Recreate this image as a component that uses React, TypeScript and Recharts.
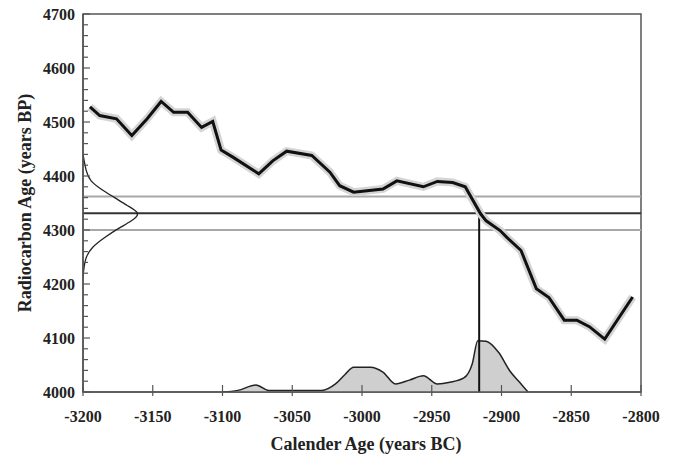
import { ComposedChart, Line, Area, XAxis, YAxis, ReferenceLine, ReferenceArea, Label } from 'recharts';

// calibration curve (calendar year BC, radiocarbon age BP)
const calYears = [-3195, -3188, -3176, -3165, -3154, -3144, -3135, -3125, -3115, -3107, -3101, -3092, -3074, -3064, -3054, -3036, -3023, -3016, -3006, -2985, -2975, -2956, -2946, -2935, -2926, -2915, -2911, -2901, -2896, -2886, -2875, -2866, -2855, -2846, -2837, -2826, -2806];
const calAges = [4528, 4512, 4506, 4475, 4506, 4538, 4518, 4518, 4490, 4501, 4448, 4434, 4404, 4428, 4446, 4438, 4407, 4382, 4370, 4376, 4391, 4380, 4390, 4388, 4380, 4330, 4317, 4299, 4286, 4262, 4191, 4175, 4133, 4133, 4121, 4098, 4176];

// measured radiocarbon date distribution (relative density)
const measAges = [4440, 4410, 4391, 4376, 4360, 4345, 4331, 4317, 4302, 4286, 4268, 4249, 4231, 4215];
const measDensity = [0, 0.06, 0.15, 0.33, 0.58, 0.82, 1, 0.89, 0.64, 0.4, 0.18, 0.06, 0.02, 0];

// calibrated calendar age distribution
const distYears = [-3100, -3089, -3076, -3067, -3029, -3019, -3012, -3006, -2994, -2985, -2976, -2966, -2956, -2946, -2937, -2927, -2921, -2917, -2911, -2902, -2894, -2887, -2881];
const distHeights = [0, 3, 13, 3, 3, 15, 33, 46, 46, 37, 15, 22, 30, 15, 18, 26, 52, 95, 94, 73, 39, 18, 0];

const measMean = 4331;
const measLow = 4300;
const measHigh = 4362;
const interceptYear = -2916;

const xTicks = [-3200, -3150, -3100, -3050, -3000, -2950, -2900, -2850, -2800];
const yMajorTicks = [4000, 4100, 4200, 4300, 4400, 4500, 4600, 4700];
const yTicks = yMajorTicks.flatMap((t, i) => (i === yMajorTicks.length - 1 ? [t] : [t, t + 20, t + 40, t + 60, t + 80]));

const GAUSS_WIDTH = 39;
const BASE = 4000;

const calData = calYears.map((year, i) => ({ year, age: calAges[i] }));
const measData = measAges.map((age, i) => ({ year: -3200 + measDensity[i] * GAUSS_WIDTH, age }));
const distData = distYears.map((year, i) => ({ year, age: BASE + distHeights[i] }));

const FONT = '"Liberation Serif", "Times New Roman", serif';

const YTick = (props: any) => {
    const { x, y, payload } = props;
    const major = payload.value % 100 === 0;
    return (
        <g>
            <line x1={x} x2={x + (major ? 7 : 5)} y1={y} y2={y} stroke="#555" strokeWidth={1.2} />
            {major && (
                <text x={x - 8} y={y + 5.5} textAnchor="end" fontFamily={FONT} fontWeight="bold" fontSize={16} fill="#222">
                    {payload.value}
                </text>
            )}
        </g>
    );
};

const XTick = (props: any) => {
    const { x, y, payload } = props;
    return (
        <g>
            <line x1={x} x2={x} y1={y - 7} y2={y + 4} stroke="#555" strokeWidth={1.2} />
            <text x={x} y={y + 30} textAnchor="middle" fontFamily={FONT} fontWeight="bold" fontSize={16} fill="#222">
                {payload.value}
            </text>
        </g>
    );
};

export default function App() {
    return (
        <div style={{ position: 'absolute', left: 0, top: 0, width: 673, height: 455, background: '#fff' }}>
            <ComposedChart width={673} height={455} margin={{ top: 14, right: 32, bottom: 0, left: 0 }}>
                <XAxis
                    dataKey="year"
                    type="number"
                    domain={[-3200, -2800]}
                    ticks={xTicks}
                    interval={0}
                    allowDataOverflow
                    height={63}
                    tickSize={0}
                    tickMargin={0}
                    tickLine={false}
                    tick={<XTick />}
                    axisLine={{ stroke: '#555', strokeWidth: 1.5 }}
                >
                    <Label
                        content={() => (
                            <text x={366} y={450} textAnchor="middle" fontFamily={FONT} fontWeight="bold" fontSize={18} fill="#222">
                                Calender Age (years BC)
                            </text>
                        )}
                    />
                </XAxis>
                <YAxis
                    type="number"
                    domain={[4000, 4700]}
                    ticks={yTicks}
                    interval={0}
                    allowDataOverflow
                    width={83}
                    tickSize={0}
                    tickMargin={0}
                    tickLine={false}
                    tick={<YTick />}
                    axisLine={{ stroke: '#555', strokeWidth: 1.5 }}
                >
                    <Label
                        content={() => (
                            <text x={31} y={203} transform="rotate(-90 31 203)" textAnchor="middle" fontFamily={FONT} fontWeight="bold" fontSize={18} fill="#222">
                                Radiocarbon Age (years BP)
                            </text>
                        )}
                    />
                </YAxis>
                <ReferenceArea x1={-3200} x2={-2800} y1={4000} y2={4700} fill="none" stroke="#555" strokeWidth={1.5} />
                <Area
                    data={distData}
                    dataKey="age"
                    type="monotone"
                    baseValue={BASE}
                    fill="#cfcfcf"
                    fillOpacity={1}
                    stroke="#222"
                    strokeWidth={1.5}
                    isAnimationActive={false}
                    dot={false}
                    activeDot={false}
                />
                <ReferenceLine y={measHigh} stroke="#a8a8a8" strokeWidth={2} />
                <ReferenceLine y={measLow} stroke="#a8a8a8" strokeWidth={2} />
                <ReferenceLine y={measMean} stroke="#333" strokeWidth={2} />
                <ReferenceLine
                    segment={[{ x: interceptYear, y: BASE }, { x: interceptYear, y: measMean }]}
                    stroke="#111"
                    strokeWidth={2}
                />
                <Line
                    data={measData}
                    dataKey="age"
                    type="natural"
                    stroke="#222"
                    strokeWidth={1.3}
                    dot={false}
                    activeDot={false}
                    isAnimationActive={false}
                />
                <Line
                    data={calData}
                    dataKey="age"
                    type="linear"
                    stroke="#d4d4d4"
                    strokeWidth={8}
                    dot={false}
                    activeDot={false}
                    isAnimationActive={false}
                />
                <Line
                    data={calData}
                    dataKey="age"
                    type="linear"
                    stroke="#111"
                    strokeWidth={3}
                    dot={false}
                    activeDot={false}
                    isAnimationActive={false}
                />
            </ComposedChart>
        </div>
    );
}
